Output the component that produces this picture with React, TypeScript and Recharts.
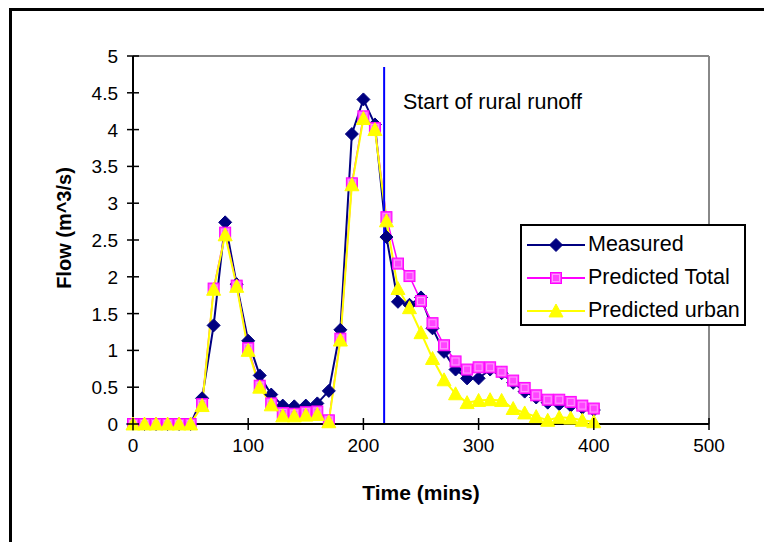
import React from 'react';
import { LineChart, Line, XAxis, YAxis, ReferenceLine } from 'recharts';

const times = [0, 10, 20, 30, 40, 50, 60, 70, 80, 90, 100, 110, 120, 130, 140, 150, 160, 170, 180, 190, 200, 210, 220, 230, 240, 250, 260, 270, 280, 290, 300, 310, 320, 330, 340, 350, 360, 370, 380, 390, 400];
const measured = [0, 0, 0, 0, 0, 0, 0.35, 1.34, 2.74, 1.9, 1.13, 0.66, 0.4, 0.25, 0.24, 0.25, 0.28, 0.45, 1.28, 3.94, 4.41, 4.07, 2.54, 1.66, 1.62, 1.72, 1.3, 0.98, 0.74, 0.62, 0.62, 0.74, 0.69, 0.56, 0.44, 0.36, 0.29, 0.27, 0.25, 0.22, 0.19];
const predictedTotal = [0, 0, 0, 0, 0, 0, 0.27, 1.84, 2.6, 1.88, 1.03, 0.52, 0.28, 0.15, 0.14, 0.16, 0.17, 0.05, 1.16, 3.27, 4.18, 4.02, 2.81, 2.18, 2.01, 1.67, 1.37, 1.07, 0.85, 0.74, 0.77, 0.77, 0.71, 0.59, 0.49, 0.39, 0.33, 0.33, 0.3, 0.25, 0.21];
const predictedUrban = [0, 0, 0, 0, 0, 0, 0.25, 1.83, 2.57, 1.87, 1.0, 0.5, 0.26, 0.11, 0.11, 0.12, 0.13, 0.03, 1.14, 3.25, 4.15, 4.0, 2.76, 1.84, 1.58, 1.24, 0.89, 0.6, 0.41, 0.29, 0.32, 0.33, 0.32, 0.21, 0.15, 0.1, 0.05, 0.09, 0.08, 0.05, 0.03];
const xTicks = [0, 100, 200, 300, 400, 500];
const yTicks = [0, 0.5, 1, 1.5, 2, 2.5, 3, 3.5, 4, 4.5, 5];
const ruralStart = 218;
const ruralTop = 4.85;
const seriesNames = ['Measured', 'Predicted Total', 'Predicted urban'];

const data = times.map((t, i) => ({
  time: t,
  measured: measured[i],
  predictedTotal: predictedTotal[i],
  predictedUrban: predictedUrban[i],
}));

const FONT = '"Liberation Sans", Arial, sans-serif';
const NAVY = '#000080';
const MAGENTA = '#ff00ff';
const YELLOW = '#ffff00';

const Diamond = (props: any) => {
  const { cx, cy, key } = props;
  if (cx == null || cy == null) return null;
  const r = 6.5;
  return <polygon key={key} points={`${cx},${cy - r} ${cx + r},${cy} ${cx},${cy + r} ${cx - r},${cy}`} fill={NAVY} stroke={NAVY} strokeWidth={1} />;
};
const Square = (props: any) => {
  const { cx, cy, key } = props;
  if (cx == null || cy == null) return null;
  const h = 5.5;
  return (
    <g key={key}>
      <rect x={cx - h} y={cy - h} width={2 * h} height={2 * h} fill="#ff44ff" stroke={MAGENTA} strokeWidth={1} />
      <rect x={cx - h + 2} y={cy - h + 2} width={2 * h - 4} height={2 * h - 4} fill="none" stroke="#ff99ff" strokeWidth={1} />
    </g>
  );
};
const Triangle = (props: any) => {
  const { cx, cy, key } = props;
  if (cx == null || cy == null) return null;
  const r = 7;
  return <polygon key={key} points={`${cx},${cy - r} ${cx + r},${cy + r * 0.85} ${cx - r},${cy + r * 0.85}`} fill={YELLOW} stroke={YELLOW} strokeWidth={1} />;
};

const XTick = (props: any) => {
  const { x, y, payload } = props;
  return (
    <g>
      <line x1={x} x2={x} y1={y - 6} y2={y + 6} stroke="#000" strokeWidth={1.5} />
      <text x={x} y={y + 28} textAnchor="middle" fontFamily={FONT} fontSize={19} fill="#000">{payload.value}</text>
    </g>
  );
};
const YTick = (props: any) => {
  const { x, y, payload } = props;
  return (
    <g>
      <line x1={x - 6} x2={x + 6} y1={y} y2={y} stroke="#000" strokeWidth={1.5} />
      <text x={x - 15} y={y + 7} textAnchor="end" fontFamily={FONT} fontSize={19} fill="#000">{payload.value}</text>
    </g>
  );
};

const LegendIcon = ({ kind }: { kind: number }) => {
  const color = kind === 0 ? NAVY : kind === 1 ? MAGENTA : YELLOW;
  return (
    <svg width={58} height={20} style={{ display: 'block' }}>
      <line x1={0} x2={58} y1={10} y2={10} stroke={color} strokeWidth={2} />
      {kind === 0 && <Diamond cx={29} cy={10} />}
      {kind === 1 && <Square cx={29} cy={10} />}
      {kind === 2 && <Triangle cx={29} cy={10} />}
    </svg>
  );
};

export default function App() {
  return (
    <div style={{ position: 'relative', width: 764, height: 534, overflow: 'hidden', background: '#fff' }}>
      <div style={{ position: 'absolute', left: 1, top: 0, width: 900, height: 700, borderTop: '3px solid #000', borderLeft: '3px solid #000' }} />
      <div style={{ position: 'absolute', left: -8, top: -8 }}>
        <LineChart width={772} height={542} data={data} margin={{ top: 56, right: 63, bottom: 88, left: 103 }}>
          <XAxis
            dataKey="time"
            type="number"
            domain={[0, 500]}
            ticks={xTicks}
            height={30}
            tickSize={0}
            tickMargin={0}
            tickLine={false}
            axisLine={{ stroke: '#000', strokeWidth: 2 }}
            tick={<XTick />}
            interval={0}
          />
          <YAxis
            type="number"
            domain={[0, 5]}
            ticks={yTicks}
            width={30}
            tickSize={0}
            tickMargin={0}
            tickLine={false}
            axisLine={{ stroke: '#000', strokeWidth: 2 }}
            tick={<YTick />}
            interval={0}
          />
          <ReferenceLine y={5} stroke="#888" strokeWidth={2} />
          <ReferenceLine x={500} stroke="#888" strokeWidth={2} />
          <Line dataKey="measured" name={seriesNames[0]} stroke={NAVY} strokeWidth={2} dot={Diamond} isAnimationActive={false} />
          <Line dataKey="predictedTotal" name={seriesNames[1]} stroke={MAGENTA} strokeWidth={1.5} dot={Square} isAnimationActive={false} />
          <Line dataKey="predictedUrban" name={seriesNames[2]} stroke={YELLOW} strokeWidth={2} dot={Triangle} isAnimationActive={false} />
          <ReferenceLine segment={[{ x: ruralStart, y: 0 }, { x: ruralStart, y: ruralTop }]} stroke="#0000ff" strokeWidth={2} />
        </LineChart>
      </div>
      <div style={{ position: 'absolute', left: 395, top: 82, fontFamily: FONT, fontSize: 21.5, color: '#000', whiteSpace: 'nowrap' }}>Start of rural runoff</div>
      <div style={{ position: 'absolute', left: 56, top: 220, width: 0, height: 0 }}>
        <div style={{ position: 'absolute', transform: 'translate(-50%, -50%) rotate(-90deg)', fontFamily: FONT, fontSize: 20, fontWeight: 'bold', whiteSpace: 'nowrap', color: '#000' }}>Flow (m^3/s)</div>
      </div>
      <div style={{ position: 'absolute', left: 413, top: 485, width: 0, height: 0 }}>
        <div style={{ position: 'absolute', transform: 'translate(-50%, -50%)', fontFamily: FONT, fontSize: 21, fontWeight: 'bold', whiteSpace: 'nowrap', color: '#000' }}>Time (mins)</div>
      </div>
      <div style={{ position: 'absolute', left: 512, top: 216, width: 226, height: 102, border: '2px solid #000', background: '#fff', boxSizing: 'border-box', fontFamily: FONT, fontSize: 21.5, color: '#000' }}>
        {seriesNames.map((name, i) => (
          <div key={name} style={{ position: 'absolute', left: 5, top: 6 + i * 33, display: 'flex', alignItems: 'center', whiteSpace: 'nowrap' }}>
            <LegendIcon kind={i} />
            <span style={{ marginLeft: 3 }}>{name}</span>
          </div>
        ))}
      </div>
    </div>
  );
}
